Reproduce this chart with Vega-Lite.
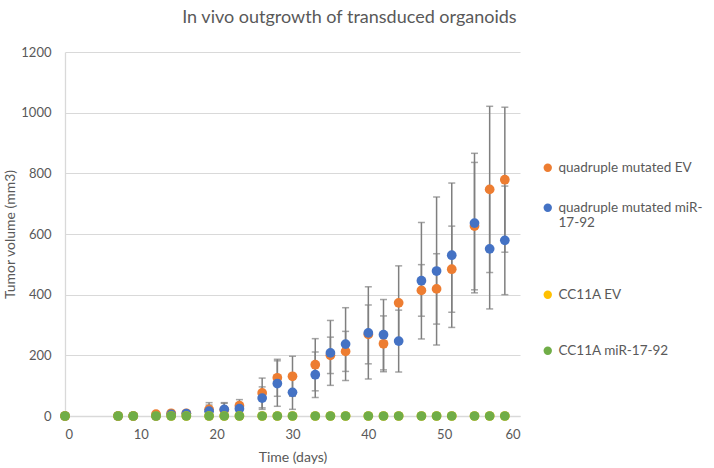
{
  "$schema": "https://vega.github.io/schema/vega-lite/v6.json",
  "autosize": {"type": "none"},
  "padding": {"left": 65, "top": 52, "right": 194, "bottom": 52},
  "width": 455,
  "height": 364,
  "background": "white",
  "config": {
    "font": "Lato",
    "view": {"stroke": null}
  },
  "title": {
    "text": "In vivo outgrowth of transduced organoids",
    "frame": "bounds",
    "anchor": "middle",
    "offset": 19,
    "dx": -4,
    "font": "Lato",
    "fontSize": 18,
    "fontWeight": "normal",
    "color": "#595959"
  },
  "data": {
    "values": [
      {"series": "quadruple mutated EV", "day": 0, "value": 0},
      {"series": "quadruple mutated EV", "day": 7, "value": 0},
      {"series": "quadruple mutated EV", "day": 9, "value": 0},
      {"series": "quadruple mutated EV", "day": 12, "value": 6},
      {"series": "quadruple mutated EV", "day": 14, "value": 9},
      {"series": "quadruple mutated EV", "day": 16, "value": 9},
      {"series": "quadruple mutated EV", "day": 19, "value": 22, "lo": 2, "hi": 44},
      {"series": "quadruple mutated EV", "day": 21, "value": 20, "lo": 2, "hi": 42},
      {"series": "quadruple mutated EV", "day": 23, "value": 34, "lo": 14, "hi": 54},
      {"series": "quadruple mutated EV", "day": 26, "value": 76, "lo": 27, "hi": 125},
      {"series": "quadruple mutated EV", "day": 28, "value": 126, "lo": 65, "hi": 187},
      {"series": "quadruple mutated EV", "day": 30, "value": 131, "lo": 65, "hi": 197},
      {"series": "quadruple mutated EV", "day": 33, "value": 169, "lo": 83, "hi": 255},
      {"series": "quadruple mutated EV", "day": 35, "value": 200, "lo": 140, "hi": 260},
      {"series": "quadruple mutated EV", "day": 37, "value": 213, "lo": 147, "hi": 279},
      {"series": "quadruple mutated EV", "day": 40, "value": 269, "lo": 172, "hi": 366},
      {"series": "quadruple mutated EV", "day": 42, "value": 238, "lo": 146, "hi": 330},
      {"series": "quadruple mutated EV", "day": 44, "value": 373, "lo": 251, "hi": 495},
      {"series": "quadruple mutated EV", "day": 47, "value": 414, "lo": 329, "hi": 499},
      {"series": "quadruple mutated EV", "day": 49, "value": 419, "lo": 303, "hi": 535},
      {"series": "quadruple mutated EV", "day": 51, "value": 484, "lo": 342, "hi": 626},
      {"series": "quadruple mutated EV", "day": 54, "value": 626, "lo": 416, "hi": 836},
      {"series": "quadruple mutated EV", "day": 56, "value": 747, "lo": 473, "hi": 1021},
      {"series": "quadruple mutated EV", "day": 58, "value": 779, "lo": 540, "hi": 1018},
      {"series": "quadruple mutated miR-17-92", "day": 0, "value": 0},
      {"series": "quadruple mutated miR-17-92", "day": 7, "value": 0},
      {"series": "quadruple mutated miR-17-92", "day": 9, "value": 0},
      {"series": "quadruple mutated miR-17-92", "day": 12, "value": 0},
      {"series": "quadruple mutated miR-17-92", "day": 14, "value": 5},
      {"series": "quadruple mutated miR-17-92", "day": 16, "value": 8},
      {"series": "quadruple mutated miR-17-92", "day": 19, "value": 16, "lo": 0, "hi": 36},
      {"series": "quadruple mutated miR-17-92", "day": 21, "value": 22, "lo": 2, "hi": 44},
      {"series": "quadruple mutated miR-17-92", "day": 23, "value": 24, "lo": 4, "hi": 44},
      {"series": "quadruple mutated miR-17-92", "day": 26, "value": 59, "lo": 22, "hi": 96},
      {"series": "quadruple mutated miR-17-92", "day": 28, "value": 107, "lo": 32, "hi": 182},
      {"series": "quadruple mutated miR-17-92", "day": 30, "value": 78, "lo": 22, "hi": 134},
      {"series": "quadruple mutated miR-17-92", "day": 33, "value": 136, "lo": 61, "hi": 211},
      {"series": "quadruple mutated miR-17-92", "day": 35, "value": 208, "lo": 101, "hi": 315},
      {"series": "quadruple mutated miR-17-92", "day": 37, "value": 237, "lo": 117, "hi": 357},
      {"series": "quadruple mutated miR-17-92", "day": 40, "value": 274, "lo": 122, "hi": 426},
      {"series": "quadruple mutated miR-17-92", "day": 42, "value": 268, "lo": 152, "hi": 384},
      {"series": "quadruple mutated miR-17-92", "day": 44, "value": 247, "lo": 145, "hi": 349},
      {"series": "quadruple mutated miR-17-92", "day": 47, "value": 446, "lo": 254, "hi": 638},
      {"series": "quadruple mutated miR-17-92", "day": 49, "value": 478, "lo": 234, "hi": 722},
      {"series": "quadruple mutated miR-17-92", "day": 51, "value": 530, "lo": 292, "hi": 768},
      {"series": "quadruple mutated miR-17-92", "day": 54, "value": 636, "lo": 406, "hi": 866},
      {"series": "quadruple mutated miR-17-92", "day": 56, "value": 551, "lo": 353, "hi": 749},
      {"series": "quadruple mutated miR-17-92", "day": 58, "value": 579, "lo": 400, "hi": 758},
      {"series": "CC11A EV", "day": 0, "value": 0},
      {"series": "CC11A EV", "day": 7, "value": 0},
      {"series": "CC11A EV", "day": 9, "value": 0},
      {"series": "CC11A EV", "day": 12, "value": 0},
      {"series": "CC11A EV", "day": 14, "value": 0},
      {"series": "CC11A EV", "day": 16, "value": 0},
      {"series": "CC11A EV", "day": 19, "value": 0},
      {"series": "CC11A EV", "day": 21, "value": 0},
      {"series": "CC11A EV", "day": 23, "value": 0},
      {"series": "CC11A EV", "day": 26, "value": 0},
      {"series": "CC11A EV", "day": 28, "value": 0},
      {"series": "CC11A EV", "day": 30, "value": 0},
      {"series": "CC11A EV", "day": 33, "value": 0},
      {"series": "CC11A EV", "day": 35, "value": 0},
      {"series": "CC11A EV", "day": 37, "value": 0},
      {"series": "CC11A EV", "day": 40, "value": 0},
      {"series": "CC11A EV", "day": 42, "value": 0},
      {"series": "CC11A EV", "day": 44, "value": 0},
      {"series": "CC11A EV", "day": 47, "value": 0},
      {"series": "CC11A EV", "day": 49, "value": 0},
      {"series": "CC11A EV", "day": 51, "value": 0},
      {"series": "CC11A EV", "day": 54, "value": 0},
      {"series": "CC11A EV", "day": 56, "value": 0},
      {"series": "CC11A EV", "day": 58, "value": 0},
      {"series": "CC11A miR-17-92", "day": 0, "value": 0},
      {"series": "CC11A miR-17-92", "day": 7, "value": 0},
      {"series": "CC11A miR-17-92", "day": 9, "value": 0},
      {"series": "CC11A miR-17-92", "day": 12, "value": 0},
      {"series": "CC11A miR-17-92", "day": 14, "value": 0},
      {"series": "CC11A miR-17-92", "day": 16, "value": 0},
      {"series": "CC11A miR-17-92", "day": 19, "value": 0},
      {"series": "CC11A miR-17-92", "day": 21, "value": 0},
      {"series": "CC11A miR-17-92", "day": 23, "value": 0},
      {"series": "CC11A miR-17-92", "day": 26, "value": 0},
      {"series": "CC11A miR-17-92", "day": 28, "value": 0},
      {"series": "CC11A miR-17-92", "day": 30, "value": 0},
      {"series": "CC11A miR-17-92", "day": 33, "value": 0},
      {"series": "CC11A miR-17-92", "day": 35, "value": 0},
      {"series": "CC11A miR-17-92", "day": 37, "value": 0},
      {"series": "CC11A miR-17-92", "day": 40, "value": 0},
      {"series": "CC11A miR-17-92", "day": 42, "value": 0},
      {"series": "CC11A miR-17-92", "day": 44, "value": 0},
      {"series": "CC11A miR-17-92", "day": 47, "value": 0},
      {"series": "CC11A miR-17-92", "day": 49, "value": 0},
      {"series": "CC11A miR-17-92", "day": 51, "value": 0},
      {"series": "CC11A miR-17-92", "day": 54, "value": 0},
      {"series": "CC11A miR-17-92", "day": 56, "value": 0},
      {"series": "CC11A miR-17-92", "day": 58, "value": 0}
    ]
  },
  "layer": [
    {
      "transform": [{"filter": "isValid(datum.lo)"}],
      "mark": {
        "type": "errorbar",
        "color": "#7f7f7f",
        "thickness": 1.5,
        "ticks": {"size": 7, "color": "#7f7f7f", "thickness": 1.5},
        "rule": {"color": "#7f7f7f", "strokeWidth": 1.5}
      },
      "encoding": {
        "x": {"field": "day", "type": "quantitative", "title": "Time (days)"},
        "y": {"field": "lo", "type": "quantitative", "title": "Tumor volume (mm3)"},
        "y2": {"field": "hi"}
      }
    },
    {
      "mark": {"type": "point", "filled": true, "opacity": 1, "size": 95, "shape": "circle"},
      "encoding": {
        "x": {
          "field": "day",
          "type": "quantitative",
          "title": "Time (days)",
          "scale": {"domain": [0, 60], "nice": false, "zero": true},
          "axis": {
            "title": "Time (days)",
            "values": [0, 5, 10, 15, 20, 25, 30, 35, 40, 45, 50, 55, 60],
            "grid": false,
            "ticks": false,
            "domain": true,
            "domainColor": "#d9d9d9",
            "domainWidth": 1.3,
            "labelColor": "#595959",
            "labelFontSize": 13,
            "labelPadding": 12,
            "titleColor": "#595959",
            "titleFontSize": 14,
            "titleFontWeight": "normal",
            "titlePadding": 9
          }
        },
        "y": {
          "field": "value",
          "type": "quantitative",
          "title": "Tumor volume (mm3)",
          "scale": {"domain": [0, 1200], "nice": false},
          "axis": {
            "title": "Tumor volume (mm3)",
            "format": "d",
            "values": [0, 200, 400, 600, 800, 1000, 1200],
            "grid": true,
            "gridColor": "#d9d9d9",
            "gridWidth": 1.2,
            "ticks": false,
            "domain": true,
            "domainColor": "#d9d9d9",
            "domainWidth": 1.3,
            "labelColor": "#595959",
            "labelFontSize": 13,
            "labelPadding": 14,
            "titleColor": "#595959",
            "titleFontSize": 14,
            "titleFontWeight": "normal",
            "titlePadding": 3
          }
        },
        "color": {
          "field": "series",
          "type": "nominal",
          "sort": ["quadruple mutated EV", "quadruple mutated miR-17-92", "CC11A EV", "CC11A miR-17-92"],
          "scale": {
            "domain": ["quadruple mutated EV", "quadruple mutated miR-17-92", "CC11A EV", "CC11A miR-17-92"],
            "range": ["#ED7D31", "#4472C4", "#FFC000", "#70AD47"]
          },
          "legend": {
            "title": null,
            "orient": "none",
            "legendX": 476,
            "legendY": 109,
            "symbolType": "circle",
            "symbolSize": 70,
            "symbolStrokeWidth": 0,
            "labelColor": "#595959",
            "labelFontSize": 13.5,
            "labelLimit": 200,
            "rowPadding": 10,
            "labelExpr": "datum.label === 'quadruple mutated miR-17-92' ? ['quadruple mutated miR-', '17-92', '', '', ''] : datum.label === 'quadruple mutated EV' ? ['quadruple mutated EV', ''] : datum.label === 'CC11A EV' ? ['CC11A EV', '', ''] : datum.label"
          }
        }
      }
    }
  ]
}
